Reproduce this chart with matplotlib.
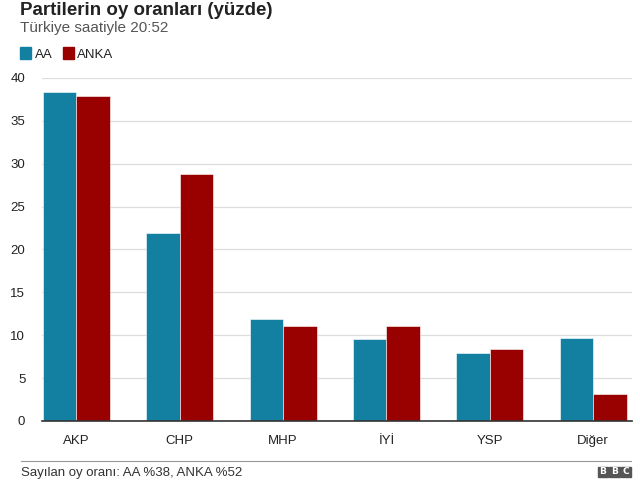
import numpy as np
import matplotlib.pyplot as plt
from matplotlib.patches import Rectangle
from matplotlib.lines import Line2D

plt.rcParams['font.family'] = ['Liberation Sans', 'DejaVu Sans']

parties = ['AKP', 'CHP', 'MHP', 'İYİ', 'YSP', 'Diğer']
aa = [38.4, 21.9, 11.9, 9.6, 7.9, 9.7]
anka = [37.9, 28.8, 11.1, 11.1, 8.4, 3.2]
series_names = ['AA', 'ANKA']
colors = ['#1380A1', '#990000']

fig = plt.figure(figsize=(6.4, 4.8), dpi=100)
ax = fig.add_axes([0.0656, 0.123, 0.922, 0.7145])

x = np.arange(len(parties))
w = 0.325
ax.bar(x - w / 2, aa, width=w, color=colors[0], edgecolor='white', linewidth=0.4)
ax.bar(x + w / 2, anka, width=w, color=colors[1], edgecolor='white', linewidth=0.4)

ax.set_xlim(-0.334, 5.377)
ax.set_ylim(0, 40)
ax.set_yticks(range(0, 41, 5))
ax.set_xticks(x)
ax.set_xticklabels(parties)
ax.yaxis.grid(True, color='#dddddd', linewidth=0.9)
ax.set_axisbelow(True)
for s in ['top', 'right', 'left']:
    ax.spines[s].set_visible(False)
ax.spines['bottom'].set_color('#333333')
ax.spines['bottom'].set_linewidth(1.2)
ax.tick_params(axis='both', length=0, labelsize=9.5, colors='#222222')
ax.tick_params(axis='x', pad=10)
ax.tick_params(axis='y', pad=12)

# title block
fig.text(0.031, 0.969, 'Partilerin oy oranları (yüzde)', fontsize=13.5, fontweight='bold',
         color='#222222', va='baseline')
fig.text(0.031, 0.933, 'Türkiye saatiyle 20:52', fontsize=11, color='#555555', va='baseline')

# legend
lx = 0.031
for name, c in zip(series_names, colors):
    fig.patches.append(Rectangle((lx, 0.877), 0.017, 0.025, transform=fig.transFigure,
                                 color=c, figure=fig))
    fig.text(lx + 0.023, 0.879, name, fontsize=9.5, color='#222222', va='baseline')
    lx += 0.067

# footer
fig.lines.append(Line2D([0.033, 0.986], [0.04, 0.04], transform=fig.transFigure,
                        color='#999999', linewidth=0.8))
fig.text(0.033, 0.009, 'Sayılan oy oranı: AA %38, ANKA %52', fontsize=9.5, color='#333333',
         va='baseline')
for i, letter in enumerate('BBC'):
    bx = 0.934 + i * 0.018
    fig.patches.append(Rectangle((bx, 0.006), 0.016, 0.022, transform=fig.transFigure,
                                 color='#555555', figure=fig))
    fig.text(bx + 0.008, 0.017, letter, fontsize=6.5, fontweight='bold', color='white',
             ha='center', va='center', family='DejaVu Sans')

fig.savefig('out.png', dpi=100, facecolor='white')
